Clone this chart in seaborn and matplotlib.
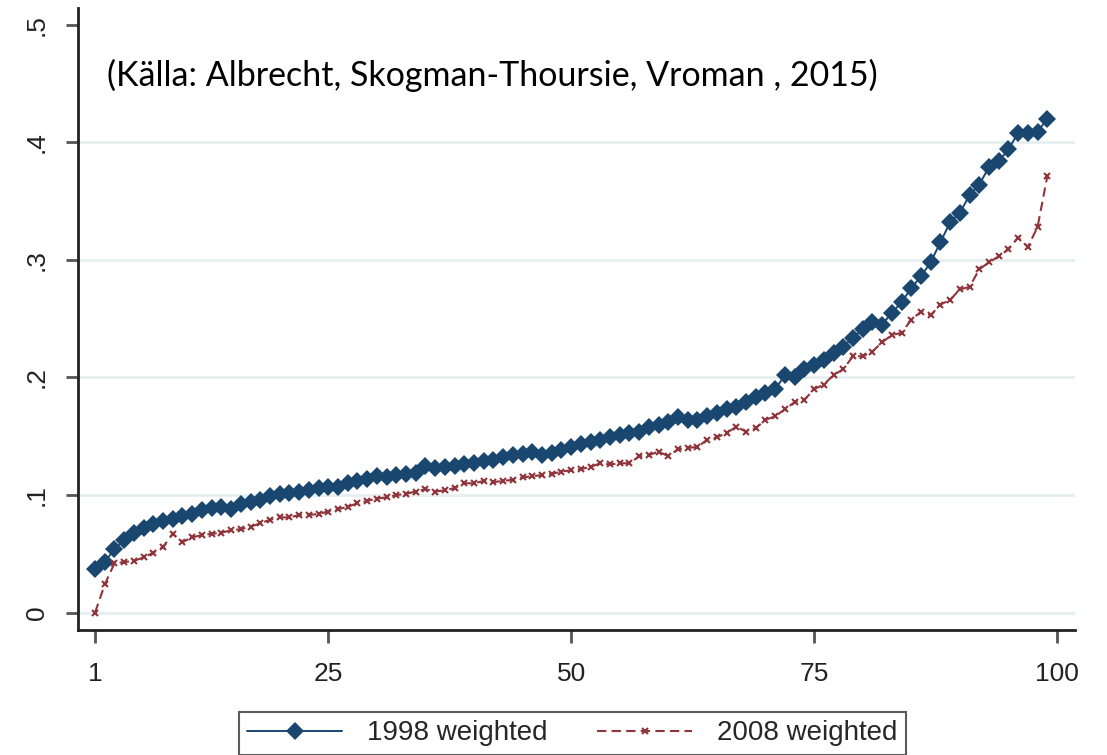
import numpy as np
import pandas as pd
import matplotlib
matplotlib.use("Agg")
import matplotlib.pyplot as plt
import seaborn as sns

# percentiles 1..99
percentiles = list(range(1, 100))

weighted_1998 = [
    0.037, 0.043, 0.054, 0.062, 0.068, 0.072, 0.075, 0.078, 0.080, 0.082,
    0.084, 0.087, 0.089, 0.090, 0.088, 0.092, 0.094, 0.096, 0.099, 0.101,
    0.102, 0.103, 0.104, 0.106, 0.107, 0.107, 0.110, 0.112, 0.114, 0.116,
    0.115, 0.117, 0.118, 0.119, 0.125, 0.123, 0.124, 0.125, 0.126, 0.127,
    0.129, 0.130, 0.132, 0.134, 0.135, 0.137, 0.134, 0.136, 0.138, 0.141,
    0.143, 0.145, 0.147, 0.149, 0.151, 0.153, 0.154, 0.158, 0.160, 0.162,
    0.166, 0.164, 0.164, 0.167, 0.170, 0.173, 0.175, 0.179, 0.183, 0.187,
    0.190, 0.202, 0.200, 0.207, 0.211, 0.215, 0.221, 0.226, 0.234, 0.241,
    0.247, 0.245, 0.255, 0.264, 0.276, 0.286, 0.298, 0.315, 0.332, 0.340,
    0.355, 0.364, 0.379, 0.384, 0.394, 0.408, 0.408, 0.409, 0.420,
]

weighted_2008 = [
    0.000, 0.024, 0.042, 0.043, 0.044, 0.047, 0.051, 0.056, 0.067, 0.060,
    0.064, 0.066, 0.067, 0.068, 0.070, 0.071, 0.073, 0.076, 0.079, 0.081,
    0.081, 0.083, 0.083, 0.084, 0.086, 0.088, 0.090, 0.093, 0.095, 0.097,
    0.098, 0.100, 0.101, 0.103, 0.105, 0.103, 0.104, 0.106, 0.110, 0.110,
    0.112, 0.111, 0.112, 0.113, 0.115, 0.116, 0.117, 0.118, 0.120, 0.121,
    0.122, 0.124, 0.127, 0.126, 0.127, 0.127, 0.133, 0.134, 0.137, 0.133,
    0.139, 0.140, 0.141, 0.147, 0.149, 0.153, 0.158, 0.154, 0.157, 0.164,
    0.167, 0.173, 0.179, 0.181, 0.190, 0.194, 0.202, 0.207, 0.218, 0.218,
    0.222, 0.230, 0.236, 0.238, 0.249, 0.256, 0.253, 0.262, 0.266, 0.275,
    0.277, 0.292, 0.298, 0.303, 0.309, 0.319, 0.311, 0.328, 0.371,
]

series_names = ["1998 weighted", "2008 weighted"]
x_ticks = [1, 25, 50, 75, 100]
y_ticks = [0, 0.1, 0.2, 0.3, 0.4, 0.5]
y_tick_labels = ["0", ".1", ".2", ".3", ".4", ".5"]
source_text = "(Källa: Albrecht, Skogman-Thoursie, Vroman , 2015)"

sns.set_style("white")
plt.rcParams["font.family"] = ["Liberation Sans", "DejaVu Sans"]

navy = "#1a476f"
maroon = "#90353b"

fig = plt.figure(figsize=(11.07, 7.55), dpi=100)
ax = fig.add_axes([0.0705, 0.166, 0.901, 0.823])

# 1998: solid line with filled diamonds
sns.lineplot(x=percentiles, y=weighted_1998, color=navy, linewidth=1.4,
             marker="D", markersize=9.5, markeredgewidth=0,
             label=series_names[0], ax=ax)
# 2008: dashed line with small crosses
sns.lineplot(x=percentiles, y=weighted_2008, color=maroon, linewidth=1.5,
             linestyle=(0, (4.5, 2.5)), marker="x", markersize=4,
             markeredgewidth=1.5, markeredgecolor=maroon,
             label=series_names[1], ax=ax)

ax.set_xlim(-0.75, 101.9)
ax.set_ylim(-0.0145, 0.514)
ax.set_xticks(x_ticks)
ax.set_xticklabels([str(t) for t in x_ticks])
ax.set_yticks(y_ticks)
ax.set_yticklabels(y_tick_labels, rotation=90, va="center")
ax.set_xlabel("")
ax.set_ylabel("")

ax.tick_params(axis="both", which="major", direction="out", length=9, width=2,
               color="#555555", labelsize=19, labelcolor="#222222",
               bottom=True, left=True)
ax.tick_params(axis="x", pad=14)
ax.tick_params(axis="y", pad=12)

for side in ["top", "right"]:
    ax.spines[side].set_visible(False)
for side in ["left", "bottom"]:
    ax.spines[side].set_linewidth(2)
    ax.spines[side].set_color("#222222")

ax.yaxis.grid(True, color="#e6eff0", linewidth=2)
ax.xaxis.grid(False)
ax.get_ygridlines()[-1].set_visible(False)
ax.set_axisbelow(True)

fig.text(0.0967, 0.9007, source_text, fontsize=24.5, family=["Lato", "DejaVu Sans"],
         ha="left", va="center", color="black")

handles, labels = ax.get_legend_handles_labels()
ax.get_legend().remove()
leg = fig.legend(handles, labels, loc="upper center", bbox_to_anchor=(0.517, 0.057),
                 ncol=2, frameon=True, fancybox=False, fontsize=20,
                 handlelength=3.4, columnspacing=1.8, handletextpad=0.9,
                 borderpad=0.3, borderaxespad=0, edgecolor="#333333")
leg.get_frame().set_linewidth(1.5)

fig.savefig("out.png", dpi=100)
